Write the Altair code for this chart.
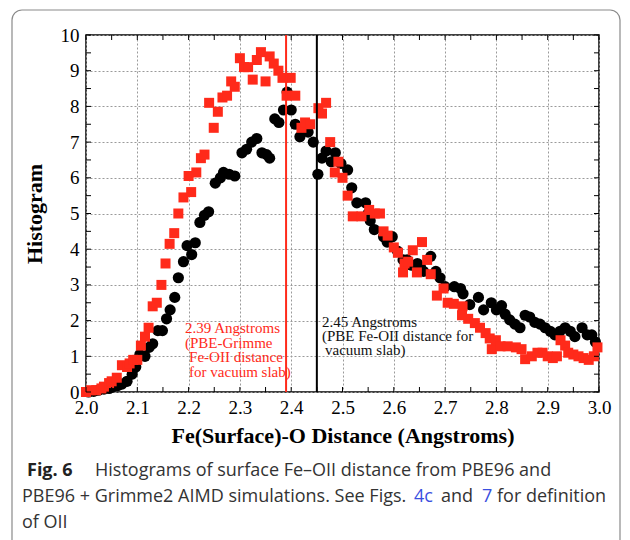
import altair as alt
import pandas as pd

# ---- data ----
red_x = [2.000, 2.010, 2.020, 2.030, 2.035, 2.045, 2.050, 2.060, 2.070, 2.080, 2.085, 2.092,
         2.100, 2.107, 2.115, 2.122, 2.130, 2.138, 2.147, 2.155, 2.163, 2.172, 2.180, 2.190,
         2.200, 2.205, 2.215, 2.224, 2.231, 2.240, 2.249, 2.257, 2.266, 2.275, 2.283, 2.290,
         2.300, 2.308, 2.316, 2.325, 2.333, 2.341, 2.350, 2.358, 2.366, 2.375, 2.383, 2.391,
         2.399, 2.408, 2.420, 2.427, 2.437, 2.453, 2.460, 2.468, 2.476, 2.485, 2.492, 2.500,
         2.510, 2.520, 2.537, 2.552, 2.563, 2.573, 2.580, 2.588, 2.600, 2.608, 2.618, 2.621,
         2.628, 2.637, 2.645, 2.655, 2.665, 2.672, 2.684, 2.697, 2.705, 2.717, 2.734, 2.733,
         2.745, 2.758, 2.768, 2.779, 2.787, 2.791, 2.799, 2.808, 2.822, 2.838, 2.849, 2.856,
         2.869, 2.880, 2.890, 2.900, 2.910, 2.918, 2.925, 2.934, 2.940, 2.950, 2.960, 2.970,
         2.980, 2.990, 2.997]
red_y = [0.00, 0.05, 0.05, 0.10, 0.15, 0.25, 0.30, 0.40, 0.75, 0.70, 0.80, 0.90,
         0.90, 1.30, 1.55, 1.80, 2.40, 2.50, 3.00, 3.60, 4.15, 4.45, 5.00, 5.45,
         6.05, 5.60, 6.15, 6.55, 6.65, 8.10, 7.40, 7.85, 8.25, 8.30, 8.70, 8.55,
         9.35, 9.10, 9.10, 8.75, 9.30, 9.52, 8.70, 9.40, 9.20, 9.00, 8.80, 8.30,
         8.80, 8.30, 7.40, 7.55, 7.50, 7.95, 7.80, 8.10, 7.00, 6.15, 6.45, 6.00,
         5.50, 4.92, 4.92, 5.10, 5.00, 5.00, 4.50, 4.38, 4.05, 3.90, 3.35, 3.60,
         3.65, 3.97, 3.35, 4.20, 3.70, 3.30, 2.70, 2.90, 2.50, 2.47, 2.40, 2.15,
         2.05, 1.93, 1.80, 1.65, 1.50, 1.20, 1.45, 1.28, 1.28, 1.25, 1.20, 0.92,
         1.00, 1.10, 1.10, 1.00, 0.95, 1.00, 1.45, 1.30, 1.10, 1.05, 1.00, 0.95,
         0.90, 1.00, 1.25]

black_x = [2.005, 2.015, 2.024, 2.035, 2.045, 2.053, 2.062, 2.070, 2.080, 2.090, 2.097, 2.105,
           2.115, 2.123, 2.130, 2.140, 2.149, 2.157, 2.164, 2.173, 2.180, 2.190, 2.197, 2.206,
           2.213, 2.222, 2.231, 2.239, 2.252, 2.262, 2.268, 2.279, 2.290, 2.304, 2.313, 2.323,
           2.333, 2.343, 2.352, 2.358, 2.368, 2.376, 2.385, 2.392, 2.400, 2.408, 2.417, 2.433,
           2.443, 2.452, 2.460, 2.468, 2.478, 2.486, 2.497, 2.510, 2.518, 2.528, 2.545, 2.550,
           2.554, 2.562, 2.580, 2.587, 2.597, 2.607, 2.618, 2.626, 2.635, 2.646, 2.652, 2.658,
           2.672, 2.682, 2.690, 2.700, 2.718, 2.730, 2.735, 2.748, 2.765, 2.775, 2.790, 2.800,
           2.810, 2.817, 2.826, 2.836, 2.846, 2.856, 2.865, 2.875, 2.885, 2.895, 2.905, 2.914,
           2.924, 2.934, 2.944, 2.953, 2.967, 2.977, 2.986, 2.993]
black_y = [0.00, 0.02, 0.05, 0.08, 0.10, 0.15, 0.18, 0.22, 0.30, 0.50, 0.70, 1.05,
           1.00, 1.25, 1.35, 1.72, 1.72, 2.05, 2.30, 2.65, 3.20, 3.65, 4.10, 3.85,
           4.18, 4.75, 4.95, 5.05, 5.85, 6.00, 6.15, 6.10, 6.05, 6.70, 6.80, 7.00,
           7.10, 6.70, 6.65, 6.55, 7.65, 7.55, 7.90, 8.40, 7.90, 7.50, 7.15, 7.28,
           7.00, 6.10, 6.55, 6.75, 6.45, 6.70, 6.40, 6.22, 5.72, 5.30, 5.30, 5.00,
           4.80, 4.55, 4.35, 4.20, 4.35, 3.95, 3.70, 3.70, 3.55, 3.60, 3.50, 3.38,
           3.80, 3.38, 3.20, 2.95, 2.95, 2.90, 2.75, 2.45, 2.65, 2.30, 2.50, 2.30,
           2.42, 2.18, 2.02, 1.90, 1.80, 2.15, 2.10, 1.95, 1.90, 1.80, 1.70, 1.60,
           1.70, 1.80, 1.70, 1.55, 1.80, 1.60, 1.60, 1.40]

vline_x = [2.39, 2.45]
vline_color = ["red", "black"]

x_ticks = [2.0, 2.1, 2.2, 2.3, 2.4, 2.5, 2.6, 2.7, 2.8, 2.9, 3.0]
y_ticks = [0, 1, 2, 3, 4, 5, 6, 7, 8, 9, 10]
x_minor = [2.0, 2.05, 2.1, 2.15, 2.2, 2.25, 2.3, 2.35, 2.4, 2.45, 2.5, 2.55, 2.6, 2.65,
           2.7, 2.75, 2.8, 2.85, 2.9, 2.95, 3.0]
y_minor = [0, 0.5, 1, 1.5, 2, 2.5, 3, 3.5, 4, 4.5, 5, 5.5, 6, 6.5, 7, 7.5, 8, 8.5, 9, 9.5, 10]

ann_text = ["2.39 Angstroms", "(PBE-Grimme", "Fe-OII distance", "for vacuum slab)",
            "2.45 Angstroms", "(PBE Fe-OII distance for", "vacuum slab)"]
ann_x = [2.193, 2.193, 2.201, 2.201, 2.460, 2.460, 2.466]
ann_y = [1.65, 1.23, 0.84, 0.42, 1.82, 1.43, 1.04]
ann_color = ["#ff2a1a"] * 4 + ["#111111"] * 3

RED = "#ff2a1a"
W, H = 513, 357
SERIF = "Liberation Serif"
CAP = "Open Sans"

xs = alt.Scale(domain=[2.0, 3.0], nice=False, zero=False)
ys = alt.Scale(domain=[0, 10], nice=False)

X_AXIS = alt.Axis(
    values=x_ticks, format=".1f", grid=True, gridDash=[2, 2], gridColor="#9a9a9a",
    gridWidth=1, ticks=False, domain=False, labelFont=SERIF, labelFontSize=19,
    labelColor="black", labelPadding=6, labelOverlap=False, labelFlush=False,
    title="Fe(Surface)-O Distance (Angstroms)",
    titleFont=SERIF, titleFontSize=22, titleFontWeight="bold", titleColor="black",
    titlePadding=8)
Y_AXIS = alt.Axis(
    values=y_ticks, format="d", grid=True, gridDash=[2, 2],
    gridColor="#9a9a9a", gridWidth=1, ticks=False, domain=False, labelFont=SERIF,
    labelFontSize=19, labelColor="black", labelPadding=7, labelOverlap=False,
    labelFlush=False, title="Histogram", titleFont=SERIF,
    titleFontSize=22, titleFontWeight="bold", titleColor="black", titlePadding=14)


def X(field="x"):
    return alt.X(f"{field}:Q", scale=xs, axis=X_AXIS)


def Y(field="y"):
    return alt.Y(f"{field}:Q", scale=ys, axis=Y_AXIS)


black_df = pd.DataFrame({"x": black_x, "y": black_y})
red_df = pd.DataFrame({"x": red_x, "y": red_y})

xt = pd.DataFrame({"x": x_minor})
yt = pd.DataFrame({"y": y_minor})
tick_b = alt.Chart(xt).mark_rule(color="black", strokeWidth=1).encode(
    x=X(), y=alt.value(H), y2=alt.value(H - 5))
tick_t = alt.Chart(xt).mark_rule(color="black", strokeWidth=1).encode(
    x=X(), y=alt.value(0), y2=alt.value(5))
tick_l = alt.Chart(yt).mark_rule(color="black", strokeWidth=1).encode(
    y=Y(), x=alt.value(0), x2=alt.value(5))
tick_r = alt.Chart(yt).mark_rule(color="black", strokeWidth=1).encode(
    y=Y(), x=alt.value(W), x2=alt.value(W - 5))

black_pts = alt.Chart(black_df).mark_circle(color="black", opacity=1, size=125).encode(
    x=X(), y=Y())
red_pts = alt.Chart(red_df).mark_square(color=RED, opacity=1, size=100).encode(
    x=X(), y=Y())

vl = alt.Chart(pd.DataFrame({"x": vline_x, "c": vline_color})).mark_rule(strokeWidth=2).encode(
    x=X(), y=alt.value(0), y2=alt.value(H),
    color=alt.Color("c:N", scale=alt.Scale(domain=["red", "black"], range=[RED, "black"]),
                    legend=None))

ann = alt.Chart(pd.DataFrame({"x": ann_x, "y": ann_y, "t": ann_text, "c": ann_color})).mark_text(
    align="left", baseline="alphabetic", font=SERIF, fontSize=15).encode(
    x=X(), y=Y(), text="t:N", color=alt.Color("c:N", scale=None))

# caption (pixel placement relative to plot origin at 86,35)
OX, OY = 86, 35
cap_text = ["Fig. 6", "Histograms of surface Fe\u2013OII distance from PBE96 and",
            "PBE96 + Grimme2 AIMD simulations. See Figs.", "4c", "and", "7",
            "for definition", "of OII"]
cap_px = [27, 95, 22, 414, 441, 482, 497, 22]
cap_py = [476, 476, 502, 502, 502, 502, 502, 528]
cap_col = ["#222222", "#333333", "#333333", "#3a4fe0", "#333333", "#3a4fe0", "#333333", "#333333"]
cap_w = ["bold", "normal", "normal", "normal", "normal", "normal", "normal", "normal"]
cap_layers = []
for t, px, py, c, w in zip(cap_text, cap_px, cap_py, cap_col, cap_w):
    cap_layers.append(
        alt.Chart(pd.DataFrame({"t": [t]})).mark_text(
            align="left", baseline="alphabetic", font=CAP, fontSize=18, fontWeight=w,
            color=c).encode(text="t:N", x=alt.value(px - OX), y=alt.value(py - OY)))

border = alt.Chart(pd.DataFrame({"a": [0]})).mark_rect(
    filled=False, stroke="#8a8a8a", strokeWidth=1.2, cornerRadius=10).encode(
    x=alt.value(12 - OX), x2=alt.value(620 - OX), y=alt.value(10 - OY), y2=alt.value(560 - OY))

chart = alt.layer(black_pts, red_pts, vl, tick_b, tick_t, tick_l, tick_r, ann,
                  border, *cap_layers).properties(
    width=W, height=H,
    autosize=alt.AutoSizeParams(type="none"),
    padding={"left": OX, "top": OY, "right": 630 - OX - W, "bottom": 540 - OY - H},
    background="white",
).configure_view(stroke="black", strokeWidth=1.5)

chart.save("out.html", embed_options={"renderer": "svg", "actions": False})
